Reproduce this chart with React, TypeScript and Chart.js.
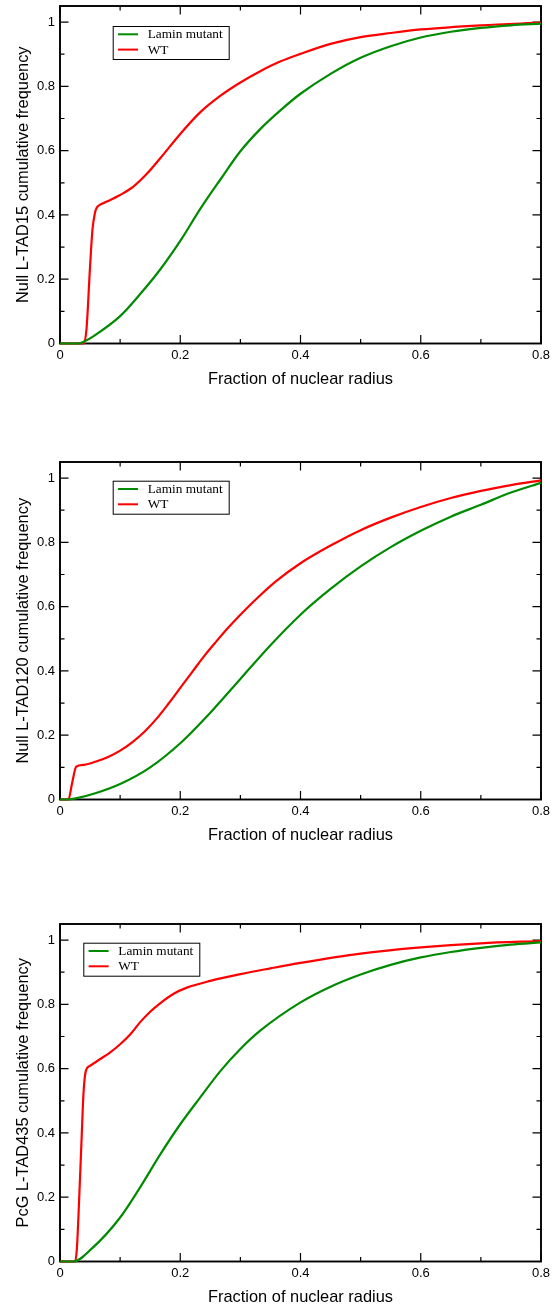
import React, { useEffect, useRef } from 'react';
import { Chart, registerables } from 'chart.js';

Chart.register(...registerables);

// ---------- data ----------
const seriesLabels = ['Lamin mutant', 'WT'];
const seriesColors = ['#008b00', '#ff0000'];
const xTitle = 'Fraction of nuclear radius';
const yTitles = [
  'Null L-TAD15 cumulative frequency',
  'Null L-TAD120 cumulative frequency',
  'PcG L-TAD435 cumulative frequency',
];
const xTickLabels = ['0', '0.2', '0.4', '0.6', '0.8'];
const yTickLabels = ['0', '0.2', '0.4', '0.6', '0.8', '1'];

// Null L-TAD15
const tad15MutantX = [0, 0.03, 0.04, 0.056, 0.1, 0.133, 0.167, 0.2, 0.233, 0.267, 0.3, 0.333, 0.367, 0.4, 0.45, 0.5, 0.55, 0.6, 0.65, 0.7, 0.75, 0.8];
const tad15MutantY = [0, 0, 0.006, 0.023, 0.085, 0.153, 0.231, 0.319, 0.418, 0.511, 0.598, 0.667, 0.726, 0.777, 0.839, 0.889, 0.925, 0.952, 0.97, 0.982, 0.99, 0.995];
const tad15WtX = [0, 0.039, 0.044, 0.05, 0.054, 0.058, 0.061, 0.066, 0.08, 0.1, 0.122, 0.144, 0.167, 0.2, 0.233, 0.267, 0.3, 0.333, 0.366, 0.4, 0.45, 0.5, 0.55, 0.6, 0.7, 0.8];
const tad15WtY = [0, 0, 0.043, 0.24, 0.354, 0.405, 0.422, 0.431, 0.443, 0.462, 0.488, 0.527, 0.577, 0.652, 0.719, 0.771, 0.812, 0.847, 0.877, 0.901, 0.932, 0.953, 0.966, 0.977, 0.99, 0.998];

// Null L-TAD120
const tad120MutantX = [0, 0.01, 0.03, 0.06, 0.1, 0.15, 0.2, 0.25, 0.3, 0.35, 0.4, 0.45, 0.5, 0.55, 0.6, 0.65, 0.7, 0.75, 0.8];
const tad120MutantY = [0, 0, 0.005, 0.02, 0.048, 0.1, 0.175, 0.27, 0.375, 0.48, 0.575, 0.655, 0.725, 0.785, 0.836, 0.88, 0.917, 0.955, 0.985];
const tad120WtX = [0, 0.014, 0.02, 0.027, 0.04, 0.06, 0.08, 0.1, 0.12, 0.14, 0.16, 0.18, 0.2, 0.22, 0.24, 0.26, 0.28, 0.3, 0.33, 0.36, 0.4, 0.45, 0.5, 0.55, 0.6, 0.65, 0.7, 0.75, 0.8];
const tad120WtY = [0, 0, 0.05, 0.102, 0.108, 0.118, 0.132, 0.152, 0.178, 0.21, 0.25, 0.297, 0.347, 0.397, 0.447, 0.492, 0.535, 0.575, 0.63, 0.68, 0.735, 0.79, 0.838, 0.877, 0.91, 0.938, 0.96, 0.978, 0.993];

// PcG L-TAD435
const tad435MutantX = [0, 0.022, 0.055, 0.1, 0.133, 0.167, 0.2, 0.233, 0.267, 0.3, 0.333, 0.4, 0.45, 0.5, 0.55, 0.6, 0.65, 0.7, 0.75, 0.8];
const tad435MutantY = [0, 0, 0.044, 0.137, 0.23, 0.334, 0.427, 0.51, 0.593, 0.661, 0.718, 0.806, 0.855, 0.893, 0.923, 0.946, 0.963, 0.976, 0.986, 0.993];
const tad435WtX = [0, 0.025, 0.028, 0.032, 0.036, 0.039, 0.043, 0.05, 0.067, 0.083, 0.1, 0.117, 0.133, 0.15, 0.167, 0.189, 0.211, 0.25, 0.3, 0.35, 0.4, 0.5, 0.6, 0.7, 0.8];
const tad435WtY = [0, 0, 0.038, 0.2, 0.386, 0.521, 0.593, 0.609, 0.63, 0.65, 0.676, 0.707, 0.744, 0.777, 0.804, 0.833, 0.852, 0.873, 0.894, 0.912, 0.929, 0.958, 0.977, 0.99, 0.997];

// ---------- styling ----------
const SANS = '"Liberation Sans", Arial, Helvetica, sans-serif';
const SERIF = '"Liberation Serif", "Times New Roman", serif';
const CANVAS_W = 553;
const CANVAS_H = 389;

const framePlugin = {
  id: 'frameTicks',
  beforeDatasetsDraw(chart: any) {
    const { ctx, chartArea: a, scales } = chart;
    const xs = scales.x;
    const ys = scales.y;
    ctx.save();
    ctx.strokeStyle = '#000';
    ctx.lineWidth = 1.2;
    ctx.beginPath();
    xs.ticks.forEach((t: any) => {
      const px = xs.getPixelForValue(t.value);
      const len = t.label ? 8.5 : 4.5;
      ctx.moveTo(px, a.bottom);
      ctx.lineTo(px, a.bottom - len);
      ctx.moveTo(px, a.top);
      ctx.lineTo(px, a.top + len);
    });
    ys.ticks.forEach((t: any) => {
      const py = ys.getPixelForValue(t.value);
      const len = t.label ? 8.5 : 4.5;
      ctx.moveTo(a.left, py);
      ctx.lineTo(a.left + len, py);
      ctx.moveTo(a.right, py);
      ctx.lineTo(a.right - len, py);
    });
    ctx.stroke();
    ctx.lineWidth = 1.9;
    ctx.strokeRect(a.left, a.top, a.right - a.left, a.bottom - a.top);
    ctx.restore();
  },
};

const boxLegendPlugin = {
  id: 'boxLegend',
  afterDraw(chart: any, _args: any, opts: any) {
    const { ctx } = chart;
    const { left, top, width, height } = opts;
    ctx.save();
    ctx.fillStyle = '#fff';
    ctx.fillRect(left, top, width, height);
    ctx.strokeStyle = '#000';
    ctx.lineWidth = 1;
    ctx.strokeRect(left + 0.5, top + 0.5, width, height);
    ctx.font = `13.3px ${SERIF}`;
    ctx.textBaseline = 'middle';
    ctx.textAlign = 'left';
    chart.data.datasets.forEach((ds: any, i: number) => {
      const y = top + 8.3 + i * 15.3;
      ctx.strokeStyle = ds.borderColor;
      ctx.lineWidth = 2;
      ctx.beginPath();
      ctx.moveTo(left + 5.3, y);
      ctx.lineTo(left + 25.3, y);
      ctx.stroke();
      ctx.fillStyle = '#000';
      ctx.fillText(ds.label, left + 35, y + 0.5);
    });
    ctx.restore();
  },
};

function tickLabel(labels: string[]) {
  return (v: number) => {
    const idx = Math.round(v * 10);
    return idx % 2 === 0 ? labels[idx / 2] ?? '' : '';
  };
}

interface Props {
  top: number;
  yTitle: string;
  mutantX: number[];
  mutantY: number[];
  wtX: number[];
  wtY: number[];
  legendLeft: number;
  legendTop: number;
}

function CdfChart({ top, yTitle, mutantX, mutantY, wtX, wtY, legendLeft, legendTop }: Props) {
  const ref = useRef<HTMLCanvasElement>(null);
  useEffect(() => {
    if (!ref.current) return;
    const series = [
      { xs: mutantX, ys: mutantY },
      { xs: wtX, ys: wtY },
    ];
    const chart = new Chart(ref.current, {
      type: 'line',
      data: {
        datasets: series.map((s, i) => ({
          label: seriesLabels[i],
          data: s.xs.map((x, j) => ({ x, y: s.ys[j] })),
          borderColor: seriesColors[i],
          backgroundColor: seriesColors[i],
          borderWidth: 2.2,
          pointRadius: 0,
          fill: false,
          cubicInterpolationMode: 'monotone',
          clip: 4,
        })),
      },
      options: {
        animation: false,
        responsive: false,
        events: [],
        layout: { padding: { top: 6, right: 12, left: 0, bottom: 0 } },
        plugins: {
          legend: { display: false },
          tooltip: { enabled: false },
          boxLegend: { left: legendLeft, top: legendTop, width: 116, height: 33 },
        } as any,
        scales: {
          x: {
            type: 'linear',
            min: 0,
            max: 0.8,
            grid: { display: false, drawTicks: false },
            border: { display: false },
            ticks: {
              stepSize: 0.1,
              includeBounds: false,
              autoSkip: false,
              maxRotation: 0,
              padding: 4,
              color: '#000',
              font: { size: 13, family: SANS },
              callback: tickLabel(xTickLabels),
            },
            title: {
              display: true,
              text: xTitle,
              color: '#000',
              font: { size: 16.4, family: SANS },
              padding: { top: 0, bottom: 0 },
            },
            afterFit: (s: any) => {
              s.height = 45.5;
              s.paddingLeft = 0;
              s.paddingRight = 0;
            },
          },
          y: {
            type: 'linear',
            min: 0,
            max: 1.05,
            grid: { display: false, drawTicks: false },
            border: { display: false },
            ticks: {
              stepSize: 0.1,
              includeBounds: false,
              autoSkip: false,
              padding: 5,
              color: '#000',
              font: { size: 13, family: SANS },
              callback: tickLabel(yTickLabels),
            },
            title: {
              display: true,
              text: yTitle,
              color: '#000',
              font: { size: 16.4, family: SANS },
              padding: { top: 14, bottom: 0 },
            },
            afterFit: (s: any) => {
              s.width = 60;
              s.paddingTop = 0;
              s.paddingBottom = 0;
            },
          },
        },
      } as any,
      plugins: [framePlugin, boxLegendPlugin],
    });
    return () => chart.destroy();
  }, []);
  return (
    <canvas
      ref={ref}
      width={CANVAS_W}
      height={CANVAS_H}
      style={{ position: 'absolute', left: 0, top, width: CANVAS_W, height: CANVAS_H }}
    />
  );
}

export default function App() {
  return (
    <div
      style={{
        position: 'absolute',
        left: 0,
        top: 0,
        width: 553,
        height: 1305,
        overflow: 'hidden',
        background: '#fff',
      }}
    >
      <CdfChart top={0} yTitle={yTitles[0]} mutantX={tad15MutantX} mutantY={tad15MutantY} wtX={tad15WtX} wtY={tad15WtY} legendLeft={112.7} legendTop={26} />
      <CdfChart top={456} yTitle={yTitles[1]} mutantX={tad120MutantX} mutantY={tad120MutantY} wtX={tad120WtX} wtY={tad120WtY} legendLeft={112.7} legendTop={24.7} />
      <CdfChart top={918} yTitle={yTitles[2]} mutantX={tad435MutantX} mutantY={tad435MutantY} wtX={tad435WtX} wtY={tad435WtY} legendLeft={83.3} legendTop={24.7} />
    </div>
  );
}
